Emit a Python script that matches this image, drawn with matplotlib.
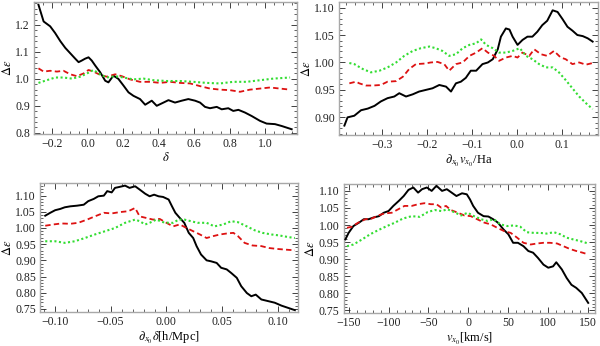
import matplotlib
matplotlib.use('Agg')
import matplotlib.pyplot as plt
from matplotlib.ticker import AutoMinorLocator, FuncFormatter, MultipleLocator

plt.rcParams['font.family'] = ['Liberation Serif', 'DejaVu Serif']
plt.rcParams['mathtext.fontset'] = 'stix'

# ---- data ----
# top left: against delta
tl_black_x = [-0.276, -0.247, -0.21, -0.182, -0.153, -0.125, -0.097, -0.069, -0.05, -0.032,
              -0.013, 0.006, 0.024, 0.043, 0.071, 0.1, 0.118, 0.146, 0.174, 0.203,
              0.231, 0.259, 0.296, 0.325, 0.362, 0.39, 0.428, 0.456, 0.493, 0.531,
              0.568, 0.606, 0.634, 0.662, 0.69, 0.728, 0.756, 0.793, 0.821, 0.85,
              0.887, 0.925, 0.972, 1.009, 1.056, 1.094, 1.15]
tl_black_y = [1.275, 1.213, 1.195, 1.17, 1.14, 1.115, 1.095, 1.075, 1.062, 1.068,
              1.075, 1.08, 1.068, 1.05, 1.025, 0.993, 0.987, 1.012, 1.0, 0.975,
              0.95, 0.937, 0.925, 0.904, 0.919, 0.9, 0.912, 0.921, 0.912, 0.919,
              0.925, 0.919, 0.912, 0.896, 0.891, 0.896, 0.887, 0.891, 0.881, 0.885,
              0.875, 0.862, 0.844, 0.834, 0.832, 0.825, 0.813]
tl_red_x = [-0.276, -0.247, -0.21, -0.172, -0.135, -0.097, -0.06, -0.022, 0.006, 0.034,
            0.071, 0.109, 0.156, 0.193, 0.24, 0.296, 0.353, 0.409, 0.465, 0.521,
            0.578, 0.634, 0.69, 0.747, 0.803, 0.859, 0.915, 0.972, 1.028, 1.084, 1.141]
tl_red_y = [1.039, 1.027, 1.03, 1.027, 1.03, 1.017, 1.01, 1.02, 1.033, 1.027,
            1.015, 1.008, 1.017, 1.01, 0.998, 0.989, 0.989, 0.985, 0.989, 0.985,
            0.983, 0.973, 0.964, 0.96, 0.958, 0.952, 0.96, 0.964, 0.968, 0.964, 0.96]
tl_green_x = [-0.276, -0.229, -0.182, -0.135, -0.088, -0.041, -0.003, 0.034, 0.071, 0.109,
              0.156, 0.203, 0.259, 0.315, 0.372, 0.447, 0.521, 0.596, 0.671, 0.747,
              0.821, 0.896, 0.972, 1.047, 1.141]
tl_green_y = [0.985, 0.995, 1.005, 1.005, 1.001, 1.008, 1.02, 1.033, 1.017, 1.005,
              1.01, 1.005, 0.998, 1.001, 0.995, 0.992, 0.992, 0.989, 0.985, 0.983,
              0.989, 0.989, 0.995, 1.001, 1.005]

# top right: against d_x v_x / Ha
tr_black_x = [-0.383, -0.376, -0.361, -0.346, -0.331, -0.316, -0.302, -0.287, -0.272, -0.261,
              -0.246, -0.231, -0.217, -0.202, -0.187, -0.172, -0.157, -0.146, -0.135, -0.124,
              -0.113, -0.102, -0.09, -0.076, -0.064, -0.053, -0.042, -0.035, -0.024, -0.016,
              -0.009, 0.002, 0.013, 0.024, 0.035, 0.046, 0.057, 0.068, 0.08, 0.091,
              0.102, 0.113, 0.124, 0.135, 0.147, 0.158, 0.169]
tr_black_y = [0.885, 0.9, 0.903, 0.913, 0.916, 0.921, 0.929, 0.935, 0.938, 0.944,
              0.938, 0.942, 0.947, 0.95, 0.953, 0.959, 0.956, 0.947, 0.962, 0.965,
              0.972, 0.985, 0.985, 0.997, 1.0, 1.006, 1.024, 1.047, 1.062, 1.06,
              1.047, 1.032, 1.041, 1.047, 1.047, 1.056, 1.068, 1.076, 1.095, 1.092,
              1.079, 1.065, 1.058, 1.05, 1.048, 1.044, 1.038]
tr_red_x = [-0.372, -0.357, -0.35, -0.335, -0.32, -0.302, -0.287, -0.268, -0.253, -0.239,
            -0.224, -0.205, -0.191, -0.176, -0.161, -0.15, -0.135, -0.12, -0.105, -0.09,
            -0.076, -0.064, -0.05, -0.039, -0.024, -0.009, 0.002, 0.013, 0.028, 0.039,
            0.054, 0.068, 0.083, 0.098, 0.109, 0.124, 0.139, 0.154, 0.169]
tr_red_y = [0.962, 0.965, 0.962, 0.958, 0.958, 0.959, 0.965, 0.966, 0.974, 0.988,
            0.997, 0.998, 1.0, 1.001, 0.997, 0.985, 0.997, 1.0, 1.012, 1.018,
            1.026, 1.018, 1.012, 1.003, 1.009, 1.012, 1.009, 1.018, 1.012, 1.024,
            1.015, 1.012, 1.021, 1.009, 1.006, 0.997, 1.0, 0.996, 0.999]
tr_green_x = [-0.372, -0.361, -0.342, -0.324, -0.305, -0.287, -0.268, -0.25, -0.231, -0.213,
              -0.194, -0.18, -0.165, -0.15, -0.135, -0.12, -0.105, -0.09, -0.079, -0.068,
              -0.053, -0.039, -0.024, -0.009, 0.007, 0.021, 0.035, 0.05, 0.065, 0.08,
              0.094, 0.109, 0.124, 0.139, 0.154, 0.169]
tr_green_y = [0.999, 0.997, 0.988, 0.982, 0.985, 0.991, 1.0, 1.012, 1.021, 1.026,
              1.029, 1.026, 1.021, 1.012, 1.015, 1.026, 1.032, 1.035, 1.042, 1.032,
              1.026, 1.018, 1.018, 1.021, 1.026, 1.012, 1.006, 0.997, 0.991, 0.991,
              0.982, 0.968, 0.953, 0.938, 0.926, 0.915]

# bottom left: against d_x delta [h/Mpc]
bl_black_x = [-0.1085, -0.104, -0.0996, -0.095, -0.091, -0.086, -0.08, -0.074, -0.07, -0.065,
              -0.061, -0.056, -0.053, -0.049, -0.046, -0.042, -0.037, -0.033, -0.028, -0.024,
              -0.019, -0.015, -0.011, -0.007, -0.003, 0.002, 0.005, 0.008, 0.012, 0.016,
              0.02, 0.024, 0.027, 0.031, 0.036, 0.04, 0.045, 0.049, 0.054, 0.058,
              0.063, 0.067, 0.072, 0.076, 0.08, 0.085, 0.091, 0.097, 0.103, 0.109, 0.115]
bl_black_y = [1.038, 1.047, 1.055, 1.059, 1.064, 1.067, 1.069, 1.072, 1.083, 1.09,
              1.098, 1.1, 1.114, 1.11, 1.124, 1.127, 1.131, 1.124, 1.129, 1.119,
              1.106, 1.098, 1.103, 1.098, 1.096, 1.088, 1.067, 1.047, 1.031, 1.016,
              0.985, 0.969, 0.944, 0.918, 0.9, 0.897, 0.892, 0.877, 0.872, 0.861,
              0.846, 0.82, 0.799, 0.789, 0.794, 0.779, 0.774, 0.769, 0.76, 0.753, 0.746]
bl_red_x = [-0.1085, -0.101, -0.094, -0.086, -0.079, -0.071, -0.064, -0.056, -0.049, -0.042,
            -0.034, -0.028, -0.024, -0.018, -0.012, -0.006, 0.0, 0.006, 0.012, 0.018,
            0.024, 0.03, 0.036, 0.042, 0.048, 0.054, 0.06, 0.064, 0.07, 0.077,
            0.085, 0.092, 0.1, 0.107, 0.115]
bl_red_y = [1.007, 1.011, 1.014, 1.013, 1.016, 1.026, 1.036, 1.047, 1.045, 1.049,
            1.052, 1.062, 1.036, 1.031, 1.026, 1.028, 1.016, 1.005, 1.011, 1.0,
            0.99, 0.98, 0.969, 0.975, 0.98, 0.983, 0.985, 0.975, 0.954, 0.946,
            0.944, 0.938, 0.935, 0.933, 0.931]
bl_green_x = [-0.1085, -0.0996, -0.091, -0.082, -0.073, -0.064, -0.055, -0.046, -0.037, -0.028,
              -0.024, -0.019, -0.015, -0.009, -0.003, 0.002, 0.006, 0.011, 0.016, 0.022,
              0.028, 0.036, 0.043, 0.051, 0.058, 0.064, 0.072, 0.079, 0.086, 0.094,
              0.101, 0.109, 0.115]
bl_green_y = [0.959, 0.959, 0.954, 0.959, 0.969, 0.98, 0.99, 1.0, 1.016, 1.026,
              1.021, 1.011, 1.016, 1.026, 1.018, 1.016, 1.016, 1.026, 1.026, 1.021,
              1.016, 1.016, 1.005, 1.011, 1.021, 1.018, 1.005, 0.993, 0.985, 0.98,
              0.977, 0.972, 0.969]

# bottom right: against v_x [km/s]
br_black_x = [-154, -150, -144, -137, -131, -125, -119, -112, -106, -100,
              -94, -87, -81, -75, -69, -63, -58, -52, -46, -40,
              -33, -27, -21, -15, -8, -2, 2, 6, 12, 19,
              25, 31, 37, 44, 50, 56, 62, 69, 75, 81,
              87, 94, 100, 106, 110, 117, 123, 129, 135, 142, 150]
br_black_y = [0.958, 0.977, 0.997, 1.007, 1.017, 1.017, 1.022, 1.026, 1.036, 1.041,
              1.056, 1.071, 1.085, 1.103, 1.11, 1.095, 1.105, 1.11, 1.1, 1.115,
              1.1, 1.105, 1.095, 1.085, 1.093, 1.09, 1.075, 1.056, 1.036, 1.026,
              1.025, 1.017, 1.007, 0.987, 0.973, 0.948, 0.948, 0.938, 0.924, 0.919,
              0.904, 0.884, 0.875, 0.879, 0.891, 0.87, 0.845, 0.825, 0.816, 0.801, 0.772]
br_red_x = [-152, -146, -138, -129, -121, -113, -105, -96, -88, -80,
            -71, -63, -55, -47, -40, -34, -28, -22, -13, -5,
            3, 11, 20, 28, 36, 45, 53, 61, 69, 78,
            86, 94, 102, 111, 119, 127, 135, 143, 150]
br_red_y = [0.992, 0.995, 1.007, 1.017, 1.019, 1.028, 1.034, 1.036, 1.046, 1.056,
            1.056, 1.061, 1.064, 1.061, 1.061, 1.051, 1.056, 1.044, 1.036, 1.028,
            1.026, 1.017, 1.007, 1.002, 0.992, 0.982, 0.977, 0.963, 0.948, 0.943,
            0.946, 0.948, 0.948, 0.946, 0.938, 0.93, 0.924, 0.919, 0.914]
br_green_x = [-152, -144, -133, -123, -113, -102, -92, -82, -71, -61,
              -51, -42, -34, -26, -18, -9, -1, 7, 16, 24,
              32, 40, 49, 57, 65, 73, 82, 90, 98, 107,
              115, 123, 131, 140, 150]
br_green_y = [0.938, 0.943, 0.958, 0.973, 0.985, 0.997, 1.007, 1.019, 1.026, 1.024,
              1.038, 1.044, 1.041, 1.046, 1.038, 1.028, 1.036, 1.026, 1.017, 1.012,
              1.017, 1.002, 0.997, 0.999, 0.995, 0.979, 0.977, 0.977, 0.975, 0.979,
              0.973, 0.963, 0.958, 0.953, 0.946]


def fmt(spec):
    # tick labels with a real minus sign, like the original
    def f(v, pos):
        s = spec % v
        if s.lstrip('-').strip('0.') == '':
            s = s.lstrip('-')
        return s.replace('-', '\u2212')
    return FuncFormatter(f)


# ---- figure ----
fig = plt.figure(figsize=(6.0, 3.46), dpi=100)

panels = [
    # rect, curves, xlim, ylim, xmajor, xminor, xfmt, ymajor, yminor, yfmt, xlabel
    ([0.057, 0.614, 0.438, 0.380],
     (tl_black_x, tl_black_y, tl_red_x, tl_red_y, tl_green_x, tl_green_y),
     (-0.30, 1.18), (0.797, 1.285), 0.2, 4, '%.1f', 0.1, 5, '%.1f', r'$\delta$'),
    ([0.565, 0.610, 0.431, 0.384],
     (tr_black_x, tr_black_y, tr_red_x, tr_red_y, tr_green_x, tr_green_y),
     (-0.395, 0.18), (0.868, 1.11), 0.1, 5, '%.1f', 0.05, 5, '%.2f',
     r'$\partial_{x_0}v_{x_0}$/Ha'),
    ([0.067, 0.098, 0.430, 0.373],
     (bl_black_x, bl_black_y, bl_red_x, bl_red_y, bl_green_x, bl_green_y),
     (-0.113, 0.118), (0.74, 1.139), 0.05, 5, '%.2f', 0.05, 5, '%.2f',
     r'$\partial_{x_0}\delta$[h/Mpc]'),
    ([0.573, 0.095, 0.418, 0.373],
     (br_black_x, br_black_y, br_red_x, br_red_y, br_green_x, br_green_y),
     (-156, 158), (0.742, 1.12), 50, 5, '%d', 0.05, 5, '%.2f',
     r'$v_{x_0}$[km/s]'),
]

for rect, c, xl, yl, xmaj, xmin, xfmt, ymaj, ymin, yfmt, xlab in panels:
    ax = fig.add_axes(rect)
    ax.plot(c[0], c[1], color='black', lw=1.4, zorder=3)
    ax.plot(c[2], c[3], color='#dd1111', lw=1.3, dashes=(3, 1.8), zorder=4)
    ax.plot(c[4], c[5], color='#33dd33', lw=1.5, dashes=(1, 1.2), zorder=4)
    ax.set_xlim(*xl)
    ax.set_ylim(*yl)
    ax.xaxis.set_major_locator(MultipleLocator(xmaj))
    ax.xaxis.set_minor_locator(AutoMinorLocator(xmin))
    ax.yaxis.set_major_locator(MultipleLocator(ymaj))
    ax.yaxis.set_minor_locator(AutoMinorLocator(ymin))
    ax.xaxis.set_major_formatter(fmt(xfmt))
    ax.yaxis.set_major_formatter(fmt(yfmt))
    for s in ax.spines.values():
        s.set_color('#a8a8a8')
        s.set_linewidth(1.0)
    ax.tick_params(which='both', direction='in', top=True, right=True,
                   colors='#222222', labelsize=8.5, pad=3)
    ax.tick_params(which='major', length=4, width=0.6)
    ax.tick_params(which='minor', length=2, width=0.5)
    ax.set_xlabel(xlab, fontsize=9, labelpad=1)
    ax.set_ylabel(r'$\Delta\varepsilon$', fontsize=9, labelpad=1)

fig.savefig('out.png', dpi=100)
